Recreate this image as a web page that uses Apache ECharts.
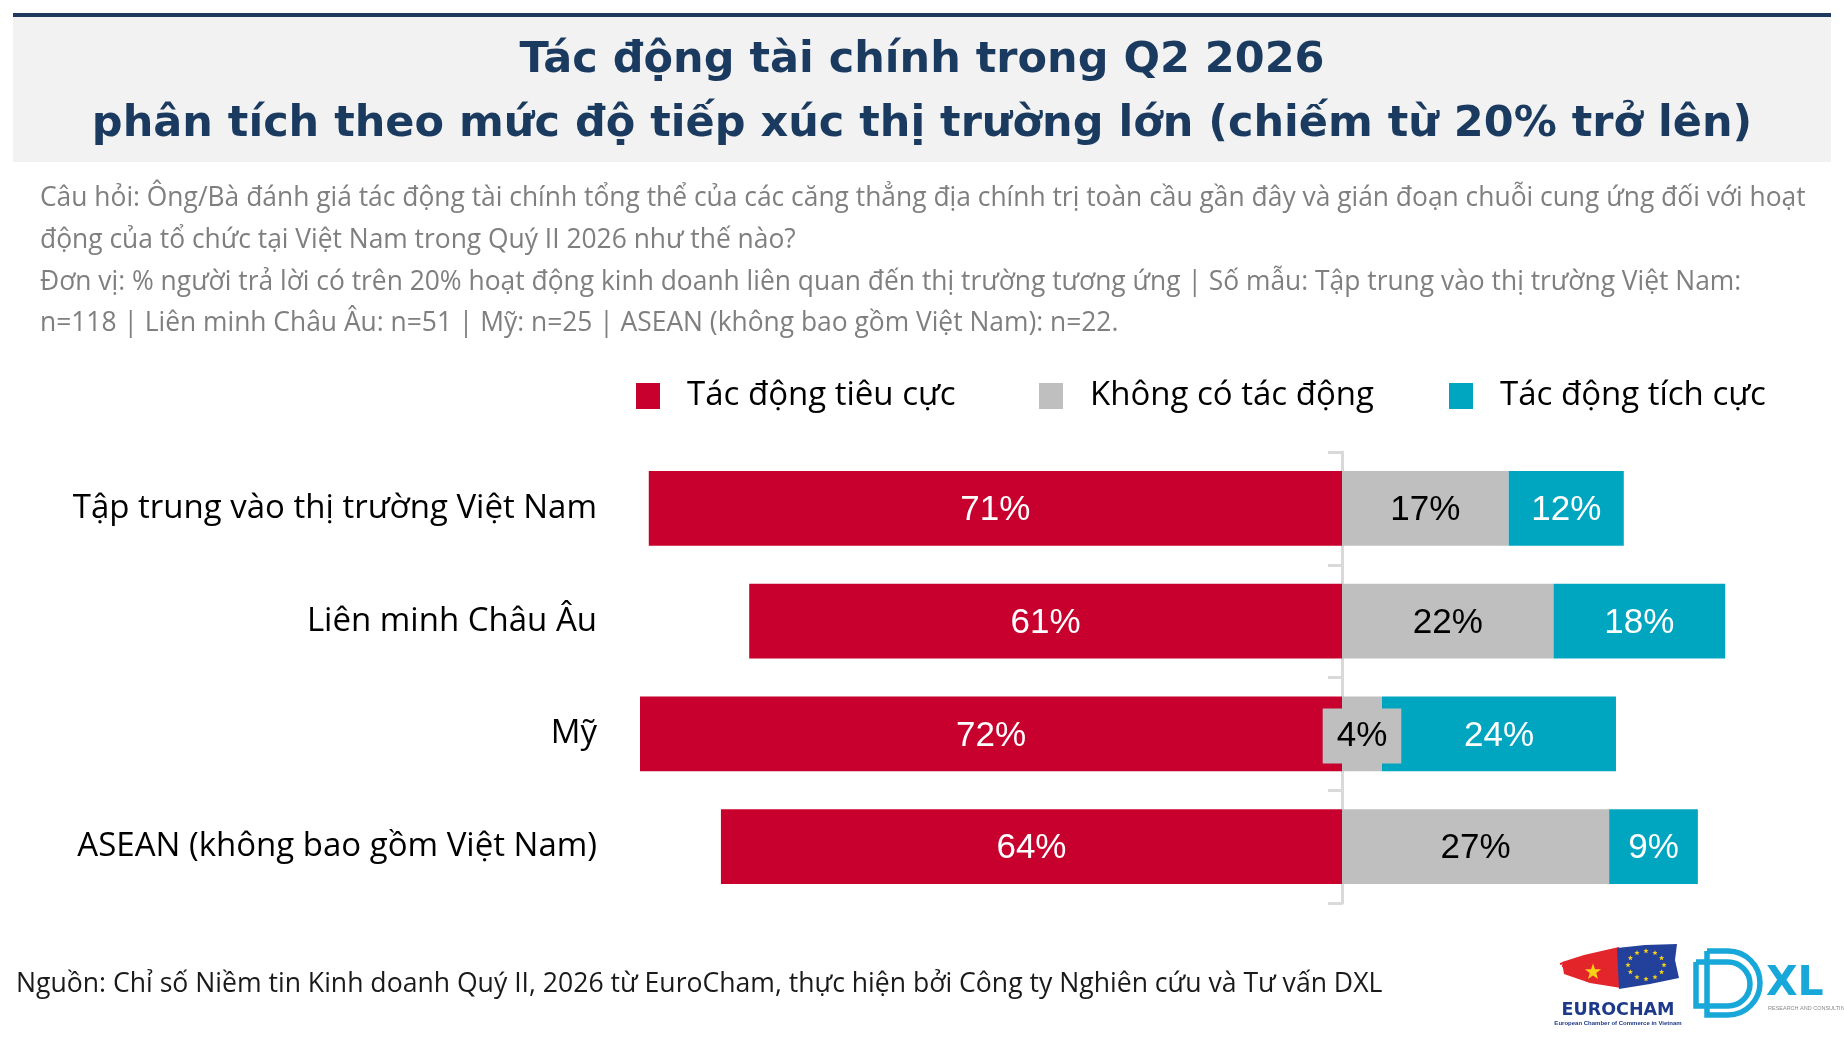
<!DOCTYPE html>
<html>
<head>
<meta charset="utf-8">
<script src="https://cdn.jsdelivr.net/npm/echarts@6/dist/echarts.min.js"></script>
<style>
html,body{margin:0;padding:0;background:#fff;}
#chart{width:1844px;height:1038px;}
</style>
</head>
<body>
<div id="chart"></div>
<script>
// ---- Data ----
const categories = ['Tập trung vào thị trường Việt Nam', 'Liên minh Châu Âu', 'Mỹ', 'ASEAN (không bao gồm Việt Nam)'];
const seriesNames = ['Tác động tiêu cực', 'Không có tác động', 'Tác động tích cực'];
const negativeImpact = [71.1, 60.8, 72.0, 63.7];
const noImpact = [17.1, 21.7, 4.1, 27.4];
const positiveImpact = [11.8, 17.6, 24.0, 9.1];

const titleLines = [
  'Tác động tài chính trong Q2 2026',
  'phân tích theo mức độ tiếp xúc thị trường lớn (chiếm từ 20% trở lên)'
];
const subtitleLines = [
  'Câu hỏi: Ông/Bà đánh giá tác động tài chính tổng thể của các căng thẳng địa chính trị toàn cầu gần đây và gián đoạn chuỗi cung ứng đối với hoạt',
  'động của tổ chức tại Việt Nam trong Quý II 2026 như thế nào?',
  'Đơn vị: % người trả lời có trên 20% hoạt động kinh doanh liên quan đến thị trường tương ứng | Số mẫu: Tập trung vào thị trường Việt Nam:',
  'n=118 | Liên minh Châu Âu: n=51 | Mỹ: n=25 | ASEAN (không bao gồm Việt Nam): n=22.'
];
const sourceText = 'Nguồn: Chỉ số Niềm tin Kinh doanh Quý II, 2026 từ EuroCham, thực hiện bởi Công ty Nghiên cứu và Tư vấn DXL';

// ---- Styles ----
const RED = '#c8002d', GRAY = '#bfbfbf', TEAL = '#00a5bf', NAVY = '#1b3a5f';
const SANS = "'Open Sans', 'Noto Sans', sans-serif";
const ARIAL = "'Liberation Sans', Arial, sans-serif";
const DXLBLUE = '#17a7d9';

const chart = echarts.init(document.getElementById('chart'), null, {renderer: 'canvas'});

const pct = p => Math.round(Math.abs(p.value)) + '%';
const barLabel = color => ({
  show: true, position: 'inside', color: color, fontSize: 35, fontFamily: ARIAL, formatter: pct, offset: [0, 2]
});

function starPoints(cx, cy, R, r) {
  const pts = [];
  for (let i = 0; i < 10; i++) {
    const a = -Math.PI / 2 + i * Math.PI / 5;
    const rad = i % 2 === 0 ? R : r;
    pts.push([cx + rad * Math.cos(a), cy + rad * Math.sin(a)]);
  }
  return pts;
}

const graphics = [];
// header band
graphics.push({type: 'rect', shape: {x: 13, y: 13, width: 1818, height: 4}, style: {fill: '#1f3a5f'}});
graphics.push({type: 'rect', shape: {x: 13, y: 17, width: 1818, height: 145}, style: {fill: '#f2f2f2'}, z: -1});
// subtitle
const subY = [198, 240, 282, 323];
subtitleLines.forEach((t, i) => {
  graphics.push({type: 'text', x: 40, y: subY[i], style: {text: t, fill: '#7f7f7f', fontSize: 26.4, fontFamily: SANS, verticalAlign: 'middle'}});
});
// source
graphics.push({type: 'text', x: 16, y: 984, style: {text: sourceText, fill: '#1a1a1a', fontSize: 26.6, fontFamily: SANS, verticalAlign: 'middle'}});

// EUROCHAM logo
graphics.push({type: 'polygon', shape: {points: [[1562, 962], [1584, 955], [1619, 947], [1621, 988], [1590, 983], [1564, 974]]}, style: {fill: '#e3262b'}});
graphics.push({type: 'polygon', shape: {points: [[1617, 948], [1645, 945], [1677, 944], [1675, 960], [1679, 978], [1650, 984], [1619, 989]]}, style: {fill: '#23409a'}});
for (let k = 0; k < 6; k++) {
  graphics.push({type: 'line', shape: {x1: 1560 + k * 2, y1: 964 + k * 2.2, x2: 1600 + k * 3, y2: 954 + k * 5}, style: {stroke: '#e3262b', lineWidth: 2}});
}
graphics.push({type: 'polygon', shape: {points: starPoints(1593, 972, 8.5, 3.4)}, style: {fill: '#f7d117'}});
for (let k = 0; k < 12; k++) {
  const a = k * Math.PI / 6;
  graphics.push({type: 'polygon', shape: {points: starPoints(1646 + 18 * Math.cos(a), 965 + 14 * Math.sin(a), 2.8, 1.2)}, style: {fill: '#f7d117'}});
}
graphics.push({type: 'text', x: 1618, y: 1010.5, style: {text: 'EUROCHAM', fill: '#1d3a8a', fontSize: 17.5, fontWeight: 'bold', fontFamily: "'DejaVu Sans', sans-serif", align: 'center', verticalAlign: 'middle'}});
graphics.push({type: 'text', x: 1618, y: 1023, style: {text: 'European Chamber of Commerce in Vietnam', fill: '#1d3a8a', fontSize: 6, fontWeight: 'bold', fontFamily: ARIAL, align: 'center', verticalAlign: 'middle'}});

// DXL logo
graphics.push({type: 'rect', shape: {x: 1707, y: 951, width: 53, height: 64, r: [0, 32, 32, 0]}, style: {fill: 'none', stroke: DXLBLUE, lineWidth: 5.5}});
graphics.push({type: 'rect', shape: {x: 1696, y: 962, width: 54, height: 44, r: [0, 22, 22, 0]}, style: {fill: 'none', stroke: DXLBLUE, lineWidth: 5.5}});
graphics.push({type: 'text', x: 1766, y: 984, style: {text: 'XL', fill: DXLBLUE, fontSize: 41, fontWeight: 'bold', fontFamily: "'DejaVu Sans', sans-serif", verticalAlign: 'middle'}});
graphics.push({type: 'text', x: 1768, y: 1008, style: {text: 'RESEARCH AND CONSULTING', fill: '#8a8a8a', fontSize: 5.5, fontFamily: ARIAL, verticalAlign: 'middle'}});

const legendBase = {
  orient: 'horizontal', top: 376, padding: 0, itemWidth: 24, itemHeight: 26, icon: 'rect',
  textStyle: {fontSize: 33, fontFamily: SANS, color: '#000', lineHeight: 40, padding: [0, 0, 0, 22]}
};
const titleStyle = {fontSize: 43, fontWeight: 'bold', fontFamily: "'DejaVu Sans', sans-serif", color: NAVY, lineHeight: 56};

const option = {
  backgroundColor: '#fff',
  animation: false,
  title: [
    {text: titleLines[0], left: 'center', top: 32.5, padding: 0, textStyle: titleStyle},
    {text: titleLines[1], left: 'center', top: 96.5, padding: 0, textStyle: titleStyle}
  ],
  legend: [
    Object.assign({}, legendBase, {left: 636, data: [seriesNames[0]]}),
    Object.assign({}, legendBase, {left: 1039, data: [seriesNames[1]]}),
    Object.assign({}, legendBase, {left: 1449, data: [seriesNames[2]]})
  ],
  grid: {left: 601, right: 14.5, top: 452, height: 451, containLabel: false},
  xAxis: {type: 'value', min: -76, max: 50, show: false},
  yAxis: [
    {
      type: 'category', data: categories, inverse: true,
      axisLine: {show: true, onZero: true, lineStyle: {color: '#d9d9d9', width: 3}},
      axisTick: {show: true, length: 14, lineStyle: {color: '#d9d9d9', width: 3}},
      axisLabel: {show: false}
    },
    {
      type: 'category', data: categories, inverse: true, position: 'left',
      axisLine: {show: false}, axisTick: {show: false},
      axisLabel: {margin: 4, fontSize: 33, fontFamily: SANS, color: '#000', padding: [8, 0, 0, 0]}
    }
  ],
  series: [
    {
      name: seriesNames[0], type: 'bar', stack: 'total', barWidth: '66.5%', yAxisIndex: 0,
      itemStyle: {color: RED}, label: barLabel('#fff'),
      data: negativeImpact.map(v => -v)
    },
    {
      name: seriesNames[1], type: 'bar', stack: 'total', barWidth: '66.5%', yAxisIndex: 0,
      itemStyle: {color: GRAY}, label: barLabel('#000'),
      data: noImpact.map(v => v < 8 ? {value: v, label: {backgroundColor: GRAY, padding: [10, 14]}} : v)
    },
    {
      name: seriesNames[2], type: 'bar', stack: 'total', barWidth: '66.5%', yAxisIndex: 0,
      itemStyle: {color: TEAL}, label: barLabel('#fff'),
      data: positiveImpact
    }
  ],
  graphic: graphics
};
chart.setOption(option);
</script>
</body>
</html>
